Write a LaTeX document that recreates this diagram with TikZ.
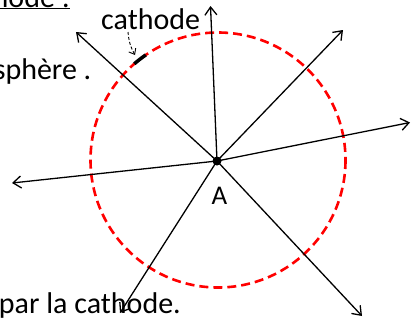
\documentclass[tikz,border=0pt]{standalone}
\usepackage{fontspec}
\setmainfont{Carlito}
\usetikzlibrary{arrows.meta}
\begin{document}
\begin{tikzpicture}[x=1pt,y=-1pt,
  ray/.style={line width=1.3pt,-{Straight Barb[length=8pt,width=12pt,line width=1.3pt]}},
  sphere/.style={red,line width=2.6pt,dash pattern=on 9pt off 5pt},
  txt/.style={inner sep=0pt,font=\fontsize{30}{36}\selectfont},
  cathodemark/.style={line width=3.5pt,black},
  pointer/.style={line width=0.9pt,dash pattern=on 3pt off 2pt,-{Straight Barb[length=5pt,width=8pt,line width=0.9pt]}}]
\useasboundingbox (0,0) rectangle (411,322);
\clip (0,0) rectangle (411,322);
% surrounding text fragments
\node[txt,anchor=base east] (t1) at (70,7) {\underline{thode :}};
\node[txt,anchor=base east] (t2) at (91.5,79) {sphère .};
\node[txt,anchor=base east] (t3) at (181,313) {par la cathode.};
% sphere
\coordinate (O) at (218,160);
\draw[sphere] (O) circle[radius=127.5];
\draw[cathodemark] ([shift={(-131:127.5)}]O) arc[start angle=-131,end angle=-124.5,radius=127.5];
% rays
\coordinate (A) at (217,161);
\coordinate (e1) at (76,32);
\coordinate (e2) at (210.5,6);
\coordinate (e3) at (343,30);
\coordinate (e4) at (410,122.5);
\coordinate (e5) at (362,316);
\coordinate (e6) at (120,313);
\coordinate (e7) at (12,183);
\foreach \e in {e1,e2,e3,e4,e5,e6,e7} \draw[ray] (A) -- (\e);
\fill (A) circle[radius=4.5pt];
\node[inner sep=0pt,anchor=base,font=\fontsize{27}{32}\selectfont] (lA) at (219.5,204) {A};
% cathode label
\node[txt,anchor=base west] (lc) at (101,29) {cathode};
\coordinate (cs) at (128,32);
\coordinate (ce) at (135,55);
\draw[pointer] (cs) to[bend right=12] (ce);
\end{tikzpicture}
\end{document}
